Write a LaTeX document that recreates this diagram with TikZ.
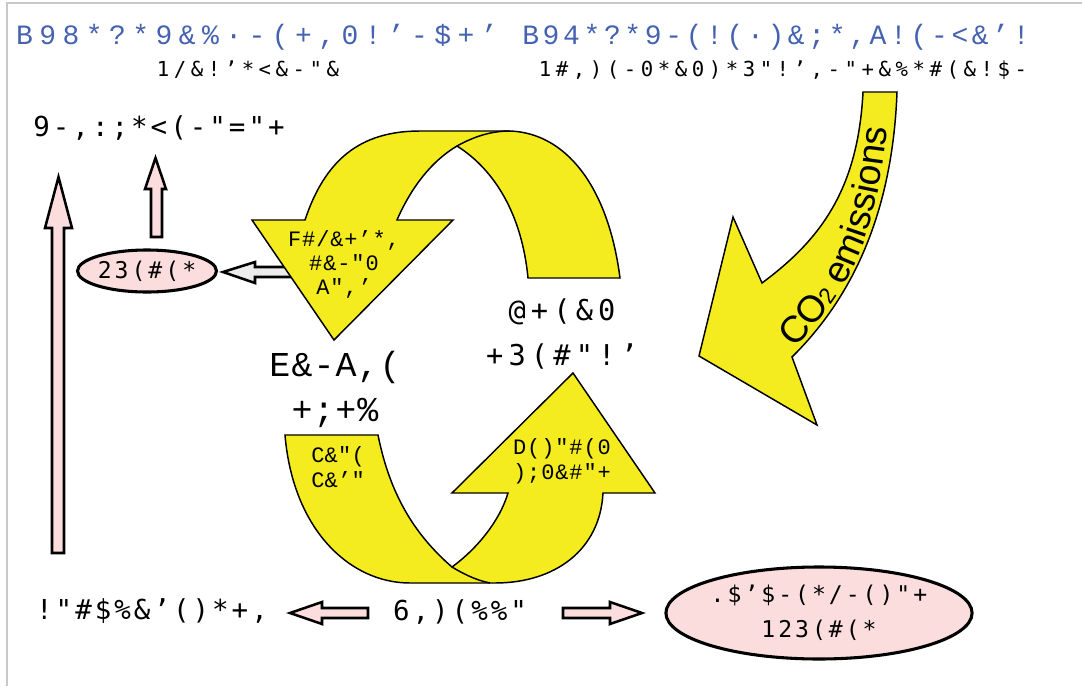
\documentclass[tikz,border=0pt]{standalone}
\usepackage{fontspec}
\usetikzlibrary{shapes.geometric,decorations.text}
\newfontfamily\fTa[LetterSpace=23]{Liberation Mono}
\newfontfamily\fTb[LetterSpace=13]{Liberation Mono}
\newfontfamily\fSub[LetterSpace=22]{DejaVu Sans Mono}
\newfontfamily\fBig[LetterSpace=11]{DejaVu Sans Mono}
\newfontfamily\fMid[LetterSpace=18]{DejaVu Sans Mono}
\newfontfamily\fEll[LetterSpace=13]{DejaVu Sans Mono}
\newfontfamily\fCour[LetterSpace=3]{Liberation Mono}
\newfontfamily\fCourS[LetterSpace=4]{Liberation Mono}
\newfontfamily\fCourC[LetterSpace=1]{Liberation Mono}
\newfontfamily\lsans{Liberation Sans}
\newcommand\coB{\lsans\fontsize{28pt}{30pt}\selectfont}
\newcommand\coS{\lsans\fontsize{17pt}{18pt}\selectfont}
\definecolor{ylw}{RGB}{244,236,30}
\definecolor{pnk}{RGB}{251,221,221}
\definecolor{ttl}{RGB}{68,98,176}
\definecolor{frm}{RGB}{200,200,200}
\definecolor{gry}{RGB}{236,236,236}
\begin{document}
\begin{tikzpicture}[x=0.75pt,y=-0.75pt,
  ylwarrow/.style={fill=ylw,draw=black,line width=1.1pt,line join=miter},
  pnkarrow/.style={fill=pnk,draw=black,line width=1.9pt,line join=miter},
  gryarrow/.style={fill=gry,draw=black,line width=1.9pt,line join=miter},
  txt/.style={inner sep=0pt,outer sep=0pt,align=center},
  ttlA/.style={txt,text=ttl,font=\fTa\fontsize{21pt}{22pt}\selectfont},
  ttlB/.style={txt,text=ttl,font=\fTb\fontsize{21pt}{22pt}\selectfont},
  subt/.style={txt,font=\fSub\fontsize{15.5pt}{18pt}\selectfont},
  bigt/.style={txt,font=\fBig\fontsize{20.6pt}{24pt}\selectfont},
  midt/.style={txt,font=\fMid\fontsize{21.5pt}{33.75pt}\selectfont},
  court/.style={txt,font=\fCour\fontsize{26.2pt}{33.75pt}\selectfont},
  cours/.style={txt,font=\fCourS\fontsize{16.5pt}{18pt}\selectfont},
  courc/.style={txt,font=\fCourC\fontsize{16.5pt}{18.75pt}\selectfont},
  ellbox/.style={ellipse,draw=black,fill=pnk,line width=2.3pt,inner sep=0pt,align=center,
     font=\fEll\fontsize{17.3pt}{26pt}\selectfont}
]
\useasboundingbox (0,0) rectangle (1082,686);
\fill[white] (0,0) rectangle (1082,686);
\draw[frm,line width=1.4pt] (7,686) -- (7,3) -- (1082,3);

% titles
\node[ttlA] (t1) at (257,37) {B98*?*9\&\%·-(+,0!’-\$+’};
\node[ttlB] (t2) at (776,37) {B94*?*9-(!(·)\&;*,A!(-<\&’!};
\node[subt] (s1) at (248,70) {1/\&!’*<\&-"\&};
\node[subt] (s2) at (783,70) {1\#,)(-0*\&0)*3"!’,-"+\&\%*\#(\&!\$-};

% left column
\node[bigt] (lt) at (159,128) {9-,:;*<(-"="+};
\draw[pnkarrow] (52,553) -- (52,228) -- (45,228) -- (58.5,177) -- (72,228) -- (64,228) -- (64,553) -- cycle;
\draw[pnkarrow] (151,237) -- (151,189) -- (145,189) -- (155.5,158) -- (166,189) -- (162,189) -- (162,237) -- cycle;
\node[ellbox,minimum width=103.5pt,minimum height=31.5pt] (e1) at (147,271) {23(\#(*};

% grey arrow to small ellipse
\draw[gryarrow] (305,267) -- (255,267) -- (255,262) -- (223,272) -- (255,283) -- (255,277) -- (305,277) -- cycle;

% top yellow curved arrow
\draw[ylwarrow] (252,220) -- (305,220) .. controls (325,160) and (360,131) .. (420,131) -- (510,131)
  .. controls (565,133) and (608,185) .. (620,278) -- (528,278)
  .. controls (522,215) and (495,170) .. (457,146)
  .. controls (430,162) and (410,190) .. (397,220) -- (453,220) -- (334,340) -- cycle;
\draw[line width=1.1pt] (457,146) .. controls (475,136) and (492,131) .. (510,131);
\node[cours] (a1) at (344,264) {F\#/\&+’*,\\\#\&-"0\\A",’};

% bottom yellow curved arrow
\draw[ylwarrow] (285,435) -- (378,435) .. controls (390,495) and (415,535) .. (452,567)
  .. controls (478,548) and (500,520) .. (508,493) -- (452,493) -- (573,373) -- (655,493) -- (603,493)
  .. controls (600,550) and (555,583) .. (495,583) -- (410,583)
  .. controls (350,583) and (293,530) .. (285,435) -- cycle;
\draw[line width=1.1pt] (452,567) .. controls (462,573) and (475,580) .. (490,583);
\node[courc] (a2) at (338,467) {C\&"(\\C\&’"};
\node[cours,font=\fCourS\fontsize{16.5pt}{18.75pt}\selectfont] (a3) at (562,461) {D()"\#(0\\);0\&\#"+};

% centre labels
\node[court] (c1) at (335,389) {E\&-A,(\\+;+\%};
\node[midt] (c2) at (562,334) {@+(\&0\\+3(\#"!’};

% CO2 arrow
\draw[ylwarrow] (863,92) -- (897,92) .. controls (893,200) and (860,290) .. (792,357) -- (817,425)
  -- (699,356) -- (733,217) -- (762,283) .. controls (820,240) and (858,190) .. (863,92) -- cycle;
\path[decorate,decoration={text along path,text align=left,
  text={|\coB|CO|\coS|2|\coB| emissions}}]
  (794,348) .. controls (850,292) and (882,230) .. (889,100);

% bottom row
\node[bigt] (b1) at (152,611) {!"\#\$\%\&’()*+,};
\node[bigt] (b2) at (460,612) {6,)(\%\%"};
\draw[pnkarrow] (368,608) -- (322,608) -- (322,602) -- (290,613) -- (322,624) -- (322,618) -- (368,618) -- cycle;
\draw[pnkarrow] (563,608) -- (610,608) -- (610,602) -- (642,613) -- (610,624) -- (610,618) -- (563,618) -- cycle;
\node[ellbox,minimum width=229.5pt,minimum height=69pt] (e2) at (819,613) {.\$’\$-(*/-()"+\\123(\#(*};
\end{tikzpicture}
\end{document}
